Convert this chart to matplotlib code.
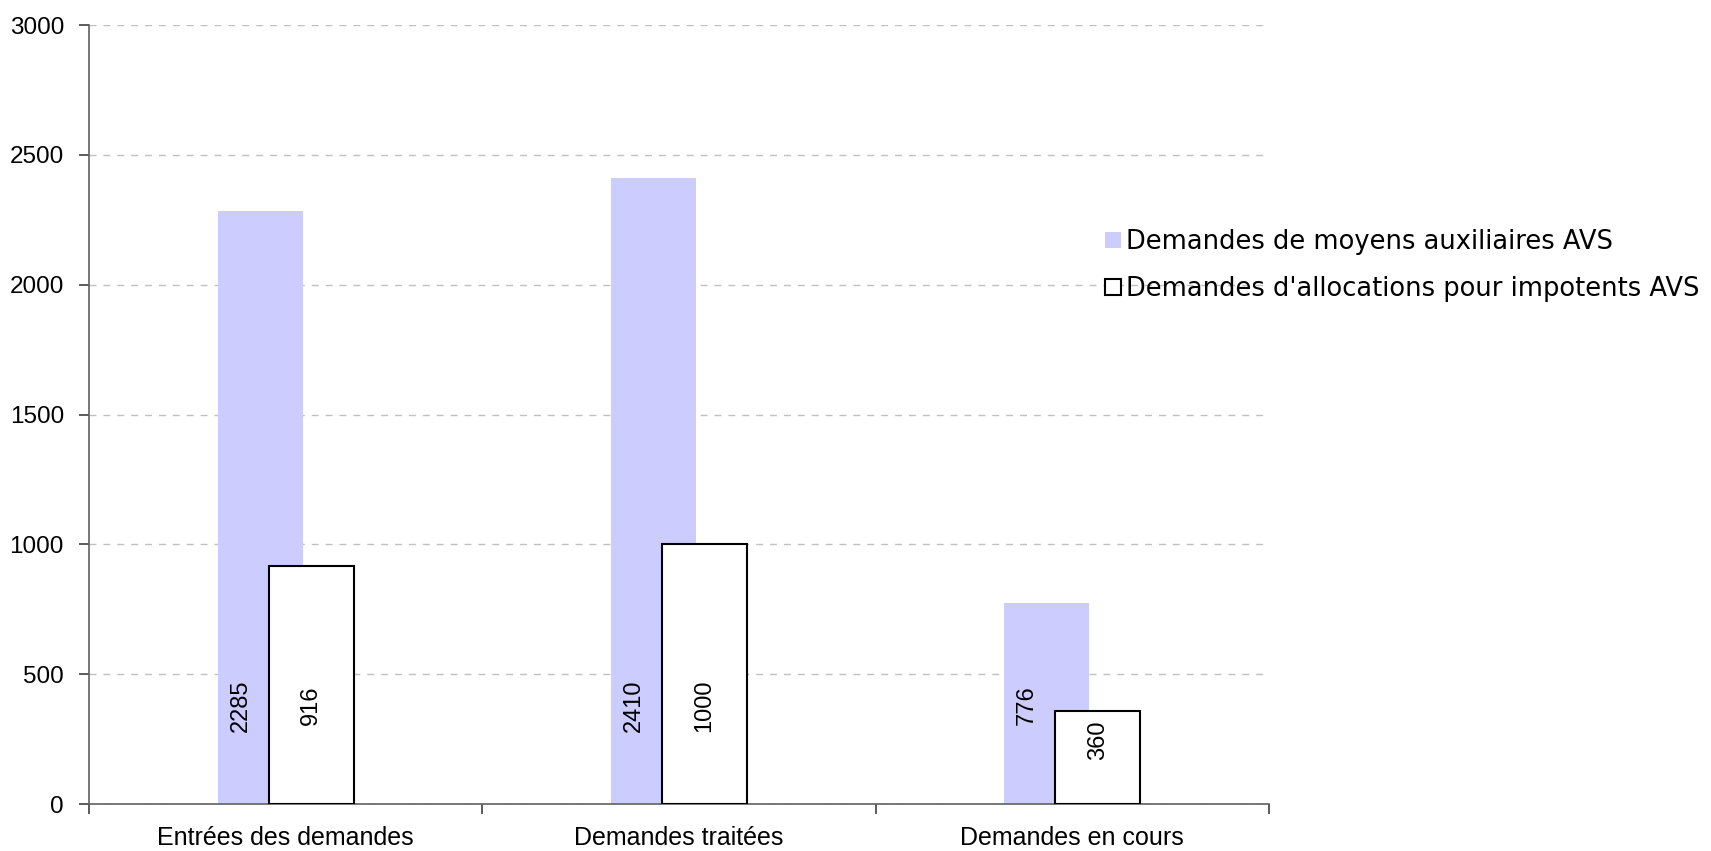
import matplotlib
matplotlib.use('Agg')
import matplotlib.pyplot as plt
import numpy as np
from matplotlib.patches import Patch

categories = ['Entrées des demandes', 'Demandes traitées', 'Demandes en cours']
moyens = [2285, 2410, 776]
impotents = [916, 1000, 360]
series_names = ['Demandes de moyens auxiliaires AVS', "Demandes d'allocations pour impotents AVS"]

plt.rcParams['font.family'] = ['Liberation Sans', 'DejaVu Sans']

fig = plt.figure(figsize=(17.11, 8.51), dpi=100)
ax = fig.add_axes([0.052, 0.0552, 0.6896, 0.9154])

x = np.arange(len(categories))
w = 0.216
off = 0.065
blue = '#CCCCFF'

ax.bar(x - off, moyens, w, color=blue, zorder=2)
ax.bar(x + off, impotents, w, color='white', edgecolor='black', linewidth=1.5, zorder=3)

# etiquettes dans les barres
for i in range(len(categories)):
    ax.text(x[i] - off - 0.05, min(380, moyens[i] * 0.68), str(moyens[i]), rotation=90,
            ha='center', va='center', fontsize=17, zorder=4)
    ax.text(x[i] + off, min(380, impotents[i] * 0.68), str(impotents[i]), rotation=90,
            ha='center', va='center', fontsize=17, zorder=4)

ax.set_xlim(-0.5, 2.5)
ax.set_ylim(0, 3000)
ax.set_yticks(np.arange(0, 3001, 500))
ax.set_xticks([-0.5, 0.5, 1.5, 2.5])
ax.set_xticklabels([])
ax.set_xticks(x, minor=True)
ax.set_xticklabels(categories, minor=True)
ax.tick_params(axis='x', which='minor', length=0, pad=16, labelsize=18)
ax.tick_params(axis='x', which='major', length=7, color='#404040', width=1.2)
ax.tick_params(axis='y', length=7, color='#404040', width=1.2, pad=11, labelsize=17.5)

ax.yaxis.grid(True, linestyle=(0, (5, 5)), color='#C0C0C0', linewidth=1, zorder=0)
ax.set_axisbelow(True)
for s in ['top', 'right']:
    ax.spines[s].set_visible(False)
for s in ['left', 'bottom']:
    ax.spines[s].set_color('#606060')
    ax.spines[s].set_linewidth(1.2)

handles = [Patch(facecolor=blue, edgecolor='none'),
           Patch(facecolor='white', edgecolor='black', linewidth=1.5)]
fig.legend(handles, series_names, loc='center left', bbox_to_anchor=(0.646, 0.688),
           frameon=False, handlelength=0.6, handleheight=0.6,
           handletextpad=0.2, labelspacing=0.8, borderpad=0, borderaxespad=0,
           prop={'family': 'DejaVu Sans', 'size': 18.5})

fig.savefig('out.png', dpi=100)
